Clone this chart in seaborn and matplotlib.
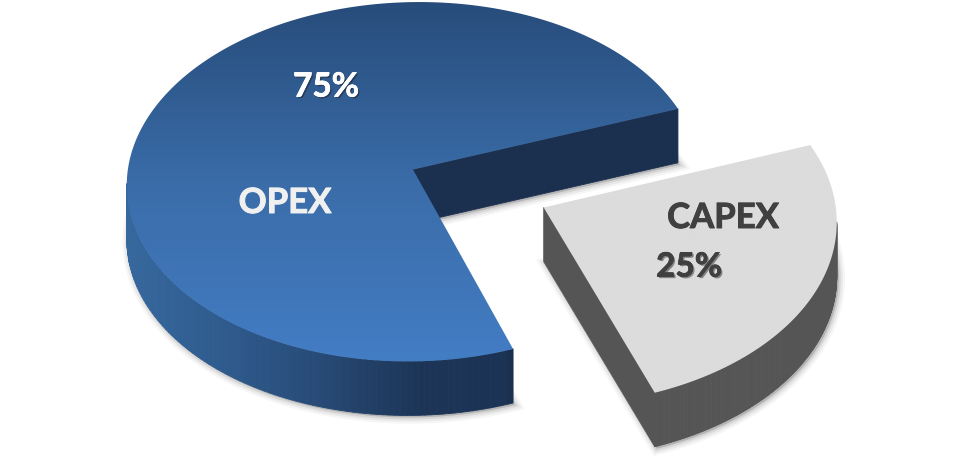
#! /usr/bin/python
import numpy as np
import matplotlib
matplotlib.use('Agg')
import matplotlib.pyplot as plt
import matplotlib.patheffects as pe
import seaborn as sns
from matplotlib.collections import PolyCollection
from matplotlib.patches import Polygon

labels = ['OPEX', 'CAPEX']
shares = [75, 25]
share_labels = ['75%', '25%']

# where unit circle points land in the picture, used for the tilted look
circle_pts = np.array([[0, 0], [1, 0], [0, -1], [-1, 0], [0, 1]], dtype=float)
pixel_pts = np.array([[413, 169], [678, 109], [513, 349], [137, 233], [325, 12]], dtype=float)
THICK = 54


def fit_homography(src, dst):
    rows = []
    for (x, y), (u, v) in zip(src, dst):
        rows.append([x, y, 1, 0, 0, 0, -u * x, -u * y, -u])
        rows.append([0, 0, 0, x, y, 1, -v * x, -v * y, -v])
    return np.linalg.svd(np.array(rows))[2][-1].reshape(3, 3)


def project(H, pts):
    p = H @ np.c_[pts, np.ones(len(pts))].T
    return (p[:2] / p[2]).T


def draw_slice(ax, outline, n_arc, top_cmap, wall_cmap, wall_range, inner_color, top_range):
    bottom = outline + [0, THICK]
    # soft shadow
    for lw, a in [(9, 0.04), (6, 0.06), (3, 0.09)]:
        ax.add_patch(Polygon(bottom + [2, 2], closed=True, fc='k', ec='k', lw=lw, alpha=a, zorder=1))
    # walls, one strip per outline segment that faces the viewer
    quads, cols = [], []
    closed = np.vstack([outline, outline[:1]])
    for i in range(len(closed) - 1):
        a, b = closed[i], closed[i + 1]
        if b[0] <= a[0]:
            continue
        quads.append([a, b, b + [0, THICK], a + [0, THICK]])
        if 1 <= i < n_arc:
            cols.append(wall_cmap(np.clip((a[0] - wall_range[0]) / (wall_range[1] - wall_range[0]), 0, 1)))
        else:
            cols.append(inner_color)
    ax.add_collection(PolyCollection(quads, facecolors=cols, edgecolors=cols, linewidths=0.6, zorder=2))
    # top face with vertical gradient
    grad = np.linspace(0, 1, 256).reshape(-1, 1)
    im = ax.imshow(grad, cmap=top_cmap, aspect='auto', zorder=3,
                   extent=(outline[:, 0].min() - 2, outline[:, 0].max() + 2, top_range[1], top_range[0]))
    im.set_clip_path(Polygon(outline, closed=True, transform=ax.transData))


sns.set_theme(style='white')
plt.rcParams['font.family'] = ['Lato', 'DejaVu Sans']

fig = plt.figure(figsize=(9.6, 4.58), dpi=100)
ax = fig.add_axes([0, 0, 1, 1])
wedges, _ = ax.pie(shares, explode=[0, 0.5], startangle=0, radius=1)

H = fit_homography(circle_pts, pixel_pts)
outlines = []
for w in wedges:
    th = np.radians(np.linspace(w.theta1, w.theta2, 241))
    arc = np.c_[np.cos(th), np.sin(th)] * w.r + np.array(w.center)
    outlines.append(project(H, np.vstack([np.array(w.center)[None], arc])))
    w.remove()

ax.set_aspect('auto')

top_blue = sns.blend_palette(['#274c7a', '#3a6ca8', '#437dc4'], as_cmap=True)
wall_blue = sns.blend_palette(['#36689e', '#2f5b8e', '#274a76', '#1c3557', '#1b3354'], as_cmap=True)
top_gray = sns.blend_palette(['#dcdcdc', '#dcdcdc'], as_cmap=True)
wall_gray = sns.blend_palette(['#555555', '#555555'], as_cmap=True)

draw_slice(ax, outlines[0], 240, top_blue, wall_blue, (125, 513), '#1b2f4f', (0, 362))
draw_slice(ax, outlines[1], 240, top_gray, wall_gray, (540, 840), '#555555', (140, 395))

shadow = [pe.withSimplePatchShadow(offset=(1.2, -1.2), alpha=0.45, shadow_rgbFace='k'),
          pe.withStroke(linewidth=0.5, foreground='#404040')]
ax.text(326, 87, share_labels[0], color='white', fontsize=24, fontweight='bold', ha='center', va='center', zorder=5,
        path_effects=[pe.withSimplePatchShadow(offset=(1.2, -1.2), alpha=0.45, shadow_rgbFace='k'),
                      pe.withStroke(linewidth=0.5, foreground='white')])
ax.text(285, 203, labels[0], color='#f0f0f0', fontsize=25, fontweight='bold', ha='center', va='center', zorder=5,
        path_effects=[pe.withStroke(linewidth=0.7, foreground='#f0f0f0')])
ax.text(723, 218, labels[1], color='#404040', fontsize=25, fontweight='bold', ha='center', va='center', zorder=5,
        path_effects=[pe.withStroke(linewidth=0.7, foreground='#404040')])
ax.text(689, 267, share_labels[1], color='#404040', fontsize=24, fontweight='bold', ha='center', va='center', zorder=5,
        path_effects=shadow)

ax.set_xlim(0, 960)
ax.set_ylim(458, 0)
ax.axis('off')
plt.savefig('out.png', dpi=100, facecolor='white')
plt.clf()
